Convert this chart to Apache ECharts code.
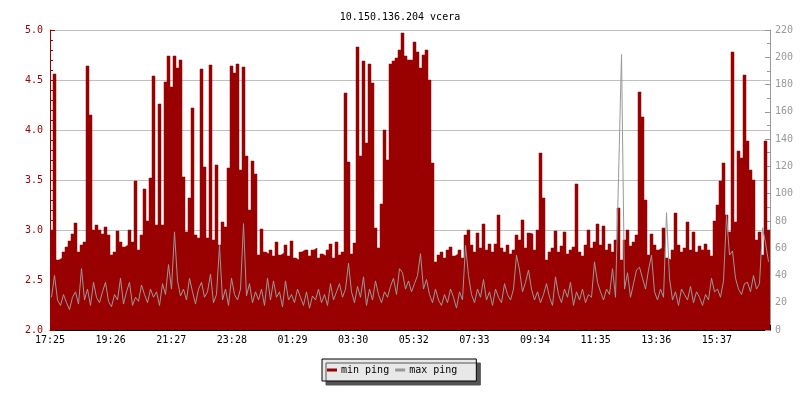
<!DOCTYPE html>
<html>
<head>
<meta charset="utf-8">
<script src="https://cdn.jsdelivr.net/npm/echarts@6/dist/echarts.min.js"></script>
<style>html,body{margin:0;padding:0;background:#fff}#c{width:800px;height:400px}</style>
</head>
<body>
<div id="c"></div>
<script>
const titleText = '10.150.136.204 vcera';
const minutesPerPoint = 6;
const tickStepMinutes = 121.25;
const xTickLabels = ['17:25','19:26','21:27','23:28','01:29','03:30','05:32','07:33','09:34','11:35','13:36','15:37'];

// min ping (left axis)
const minPing = [
  3.0, 4.56, 2.7, 2.72, 2.78, 2.83, 2.89, 2.96, 3.07, 2.78,
  2.85, 2.88, 4.64, 4.15, 3.0, 3.05, 3.0, 2.96, 3.03, 2.95,
  2.75, 2.78, 2.99, 2.88, 2.83, 2.85, 3.0, 2.88, 3.49, 2.8,
  2.95, 3.41, 3.09, 3.52, 4.54, 3.05, 4.26, 3.05, 4.48, 4.74,
  4.43, 4.74, 4.62, 4.7, 3.53, 2.98, 3.32, 4.22, 2.95, 2.92,
  4.61, 3.63, 2.92, 4.65, 2.9, 3.65, 2.85, 3.08, 3.03, 3.62,
  4.64, 4.57, 4.66, 3.6, 4.63, 3.74, 3.2, 3.69, 3.56, 2.75,
  3.01, 2.78, 2.76, 2.8, 2.74, 2.88, 2.75, 2.77, 2.85, 2.74,
  2.89, 2.72, 2.7, 2.78, 2.8, 2.8, 2.74, 2.8, 2.82, 2.72,
  2.76, 2.74, 2.8, 2.86, 2.72, 2.88, 2.75, 2.78, 4.37, 3.68,
  2.76, 2.87, 4.83, 3.74, 4.69, 3.87, 4.66, 4.47, 3.02, 2.82,
  3.26, 4.0, 3.7, 4.66, 4.69, 4.72, 4.8, 4.97, 4.74, 4.7,
  4.7, 4.88, 4.78, 4.62, 4.75, 4.8, 4.5, 3.67, 2.68, 2.75,
  2.78, 2.72, 2.8, 2.83, 2.74, 2.76, 2.8, 2.72, 2.95, 3.0,
  2.85, 2.78, 2.97, 2.82, 3.06, 2.8, 2.86, 2.78, 2.86, 3.15,
  2.82, 2.78, 2.85, 2.76, 2.8, 2.95, 2.9, 3.1, 2.82, 2.97,
  2.96, 2.8, 3.0, 3.77, 3.32, 2.7, 2.78, 2.82, 2.99, 2.78,
  2.84, 2.98, 2.76, 2.8, 2.83, 3.46, 2.78, 2.74, 2.85, 3.0,
  2.82, 2.88, 3.06, 2.85, 3.04, 2.8, 2.86, 2.78, 2.9, 3.22,
  2.7, 2.9, 3.0, 2.84, 2.88, 2.95, 4.38, 4.13, 3.3, 2.75,
  2.96, 2.85, 2.8, 2.82, 3.02, 2.72, 2.7, 2.8, 3.17, 2.85,
  2.78, 2.82, 3.08, 2.8, 2.98, 2.78, 2.84, 2.8, 2.86, 2.8,
  2.74, 3.09, 3.25, 3.49, 3.67, 3.15, 2.98, 4.78, 3.08, 3.79,
  3.72, 4.55, 3.89, 3.6, 3.5, 2.9, 2.98, 2.75, 3.89, 3.0
];

// max ping (right axis)
const maxPing = [
  24, 40, 22, 18, 26, 20, 15, 24, 28, 19,
  45, 22, 30, 18, 35, 24, 20, 28, 35, 21,
  17, 26, 22, 38, 19, 28, 35, 18, 24, 21,
  33, 26, 20, 30, 24, 28, 18, 34, 26, 48,
  30, 72, 36, 25, 30, 22, 38, 28, 19, 30,
  35, 24, 28, 41, 20, 26, 62, 22, 30, 18,
  38, 26, 22, 30, 78, 25, 34, 20, 28, 22,
  30, 18, 38, 22, 36, 24, 28, 17, 36, 22,
  26, 20, 30, 24, 18, 28, 16, 25, 22, 30,
  20, 26, 18, 34, 22, 28, 34, 24, 30, 49,
  28, 20, 32, 24, 39, 18, 30, 22, 36, 26,
  20, 28, 24, 32, 38, 26, 45, 42, 30, 36,
  28, 34, 40, 56, 30, 37, 26, 20, 30, 22,
  18, 26, 20, 30, 24, 16, 28, 22, 62, 40,
  26, 20, 30, 24, 37, 22, 28, 18, 30, 24,
  20, 34, 26, 22, 30, 55, 44, 28, 35, 44,
  30, 22, 28, 20, 26, 34, 24, 18, 39, 26,
  20, 30, 24, 35, 18, 28, 22, 30, 20, 26,
  24, 50, 35, 28, 22, 30, 26, 45, 24, 111,
  202, 30, 42, 24, 34, 44, 46, 38, 30, 44,
  55, 28, 22, 30, 24, 86, 38, 22, 28, 18,
  30, 26, 22, 32, 20, 28, 24, 18, 26, 22,
  38, 28, 30, 24, 36, 84, 55, 58, 38, 30,
  26, 34, 35, 28, 40, 30, 34, 75, 64, 50
];

const totalMinutes = minPing.length * minutesPerPoint;
const minData = minPing.map((v, i) => [i * minutesPerPoint, v]);
minData.push([totalMinutes, minPing[minPing.length - 1]]);
const maxData = maxPing.map((v, i) => [i * minutesPerPoint + minutesPerPoint / 2, v]);

const MONO = 'DejaVu Sans Mono';
const RED = '#990000';
const GRAY = '#999999';

const chart = echarts.init(document.getElementById('c'), null, {renderer: 'canvas'});
chart.setOption({
  animation: false,
  backgroundColor: '#ffffff',
  title: {
    text: titleText, left: 'center', top: 7,
    textStyle: {fontFamily: MONO, fontSize: 10, fontWeight: 'normal', color: '#000'}
  },
  legend: {
    left: 322, top: 359, orient: 'horizontal',
    itemWidth: 10, itemHeight: 3, itemGap: 6,
    padding: [6, 19, 6, 5],
    backgroundColor: '#e8e8e8', borderColor: '#000', borderWidth: 1,
    shadowColor: '#555555', shadowOffsetX: 4, shadowOffsetY: 4, shadowBlur: 0,
    icon: 'rect',
    textStyle: {fontFamily: MONO, fontSize: 10, color: '#000', padding: [0, 0, 0, -1]},
    data: ['min ping', 'max ping']
  },
  grid: {left: 50, right: 30, top: 30, bottom: 70, containLabel: false},
  xAxis: {
    type: 'value', min: 0, max: totalMinutes, interval: tickStepMinutes,
    axisLine: {show: true, lineStyle: {color: '#000', width: 1}},
    axisTick: {show: true, inside: true, length: 5, lineStyle: {color: '#000'}},
    axisLabel: {
      color: '#000', fontFamily: MONO, fontSize: 10, margin: 5,
      formatter: function (v) {
        const k = Math.round(v / tickStepMinutes);
        if (Math.abs(k * tickStepMinutes - v) < 0.01 && xTickLabels[k] !== undefined) return xTickLabels[k];
        return '';
      }
    },
    splitLine: {show: false}
  },
  yAxis: [
    {
      type: 'value', position: 'left', min: 2, max: 5, interval: 0.5,
      axisLine: {show: true, lineStyle: {color: RED, width: 1}},
      axisTick: {show: true, inside: true, length: 5, lineStyle: {color: RED}},
      minorTick: {show: true, splitNumber: 5, length: 3, lineStyle: {color: RED}},
      axisLabel: {color: RED, fontFamily: MONO, fontSize: 10, margin: 7, formatter: v => v.toFixed(1)},
      splitLine: {show: true, lineStyle: {color: '#c0c0c0', width: 1}}
    },
    {
      type: 'value', position: 'right', min: 0, max: 220, interval: 20,
      axisLine: {show: true, lineStyle: {color: GRAY, width: 1}},
      axisTick: {show: true, inside: true, length: 5, lineStyle: {color: GRAY}},
      minorTick: {show: true, splitNumber: 2, length: 3, lineStyle: {color: GRAY}},
      axisLabel: {color: GRAY, fontFamily: MONO, fontSize: 10, margin: 5},
      splitLine: {show: false}
    }
  ],
  series: [
    {
      name: 'min ping', type: 'line', yAxisIndex: 0, data: minData,
      step: 'end', symbol: 'none', showSymbol: false,
      itemStyle: {color: RED},
      lineStyle: {color: RED, width: 0.5},
      areaStyle: {color: RED, opacity: 1, origin: 'start'},
      z: 2
    },
    {
      name: 'max ping', type: 'line', yAxisIndex: 1, data: maxData,
      symbol: 'none', showSymbol: false,
      itemStyle: {color: GRAY},
      lineStyle: {color: GRAY, width: 1},
      z: 3
    }
  ]
});
</script>
</body>
</html>
